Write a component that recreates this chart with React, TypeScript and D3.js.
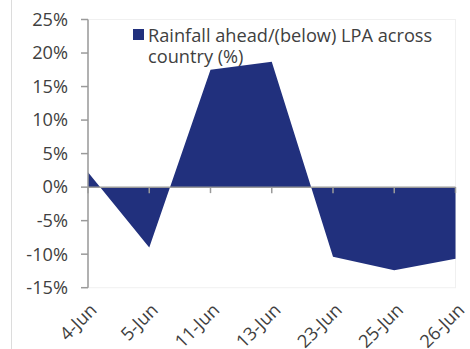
import React from "react";
import * as d3 from "d3";

// Rainfall departure from long-period average, by date
const dates = ["4-Jun", "5-Jun", "11-Jun", "13-Jun", "23-Jun", "25-Jun", "26-Jun"];
const rainfallVsLpa = [2.2, -9.0, 17.5, 18.7, -10.4, -12.4, -10.7];
const yTicks = [25, 20, 15, 10, 5, 0, -5, -10, -15];
const legendLines = ["Rainfall ahead/(below) LPA across", "country (%)"];

const W = 470;
const H = 349;
const FONT = "'Open Sans', sans-serif";
const TEXT = "#404040";
const AXIS = "#9a9a9a";
const FILL = "#21307d";
const FS = 18.2;

export default function App() {
  const x = d3.scalePoint<string>().domain(dates).range([88, 455.5]);
  const y = d3.scaleLinear().domain([-15, 25]).range([287.7, 19.5]);

  const area = d3
    .area<number>()
    .x((_, i) => x(dates[i]) as number)
    .y0(y(0))
    .y1((d) => y(d));

  const x0 = x.range()[0];
  const x1 = x.range()[1];

  return (
    <svg
      width={W}
      height={H}
      style={{ position: "absolute", left: 0, top: 0, background: "#fff" }}
      fontFamily={FONT}
    >
      <line x1={11.5} x2={11.5} y1={0} y2={H} stroke="#dcdcdc" strokeWidth={1} />
      {/* faint plot frame */}
      <rect
        x={x0}
        y={y(25)}
        width={x1 - x0}
        height={y(-15) - y(25)}
        fill="none"
        stroke="#f0f0f0"
        strokeWidth={1}
      />

      <path d={area(rainfallVsLpa) ?? ""} fill={FILL} />

      {/* y axis */}
      <line x1={x0} x2={x0} y1={y(25)} y2={y(-15)} stroke={AXIS} strokeWidth={1.5} />
      {yTicks.map((t) => (
        <g key={t}>
          <line x1={x0 - 7} x2={x0} y1={y(t)} y2={y(t)} stroke={AXIS} strokeWidth={1.5} />
          <text
            x={68}
            y={y(t)}
            dy="0.35em"
            textAnchor="end"
            fontSize={FS}
            fill={TEXT}
          >
            {`${t}%`}
          </text>
        </g>
      ))}

      {/* zero line with category ticks */}
      <line x1={x0} x2={x1} y1={y(0)} y2={y(0)} stroke={AXIS} strokeWidth={1.5} />
      {dates.map((d) => (
        <g key={d}>
          <line
            x1={x(d)}
            x2={x(d)}
            y1={y(0)}
            y2={y(0) + 6}
            stroke={AXIS}
            strokeWidth={1.5}
          />
          <text
            transform={`translate(${(x(d) as number) + 1},${302}) rotate(-45)`}
            textAnchor="end"
            dy="0.7em"
            fontSize={FS}
            fill={TEXT}
          >
            {d}
          </text>
        </g>
      ))}

      {/* legend */}
      <rect x={133} y={29} width={11} height={11} fill={FILL} />
      {legendLines.map((l, i) => (
        <text key={i} x={148} y={41.5 + i * 21.5} fontSize={FS} fill={TEXT}>
          {l}
        </text>
      ))}
    </svg>
  );
}
